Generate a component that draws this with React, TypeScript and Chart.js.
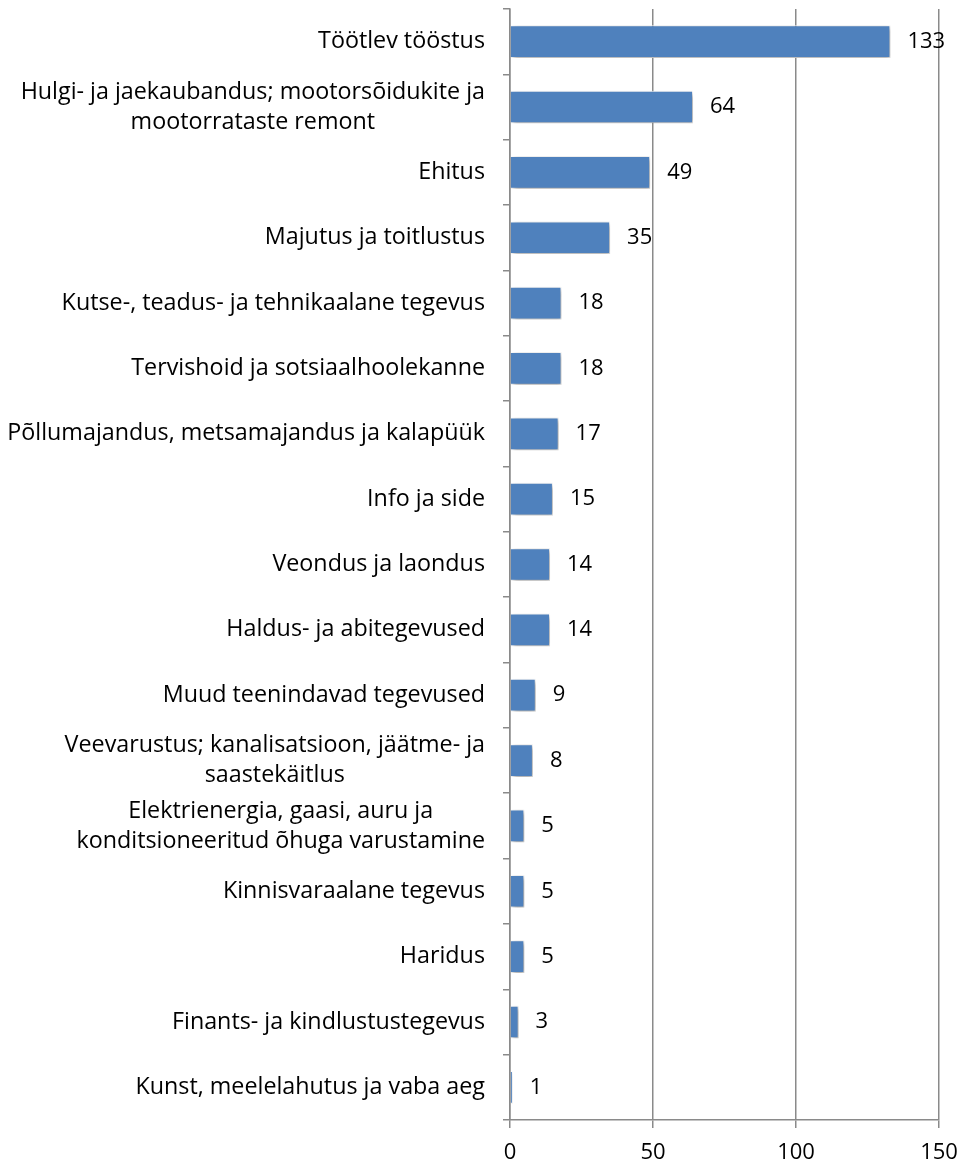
import { useEffect, useRef } from "react";
import { Chart, registerables } from "chart.js";
Chart.register(...registerables);

const categories: (string | string[])[] = [
  "Töötlev tööstus",
  ["Hulgi- ja jaekaubandus; mootorsõidukite ja", "mootorrataste remont"],
  "Ehitus",
  "Majutus ja toitlustus",
  "Kutse-, teadus- ja tehnikaalane tegevus",
  "Tervishoid ja sotsiaalhoolekanne",
  "Põllumajandus, metsamajandus ja kalapüük",
  "Info ja side",
  "Veondus ja laondus",
  "Haldus- ja abitegevused",
  "Muud teenindavad tegevused",
  ["Veevarustus; kanalisatsioon, jäätme- ja", "saastekäitlus"],
  ["Elektrienergia, gaasi, auru ja", "konditsioneeritud õhuga varustamine"],
  "Kinnisvaraalane tegevus",
  "Haridus",
  "Finants- ja kindlustustegevus",
  "Kunst, meelelahutus ja vaba aeg",
];
const values: number[] = [133, 64, 49, 35, 18, 18, 17, 15, 14, 14, 9, 8, 5, 5, 5, 3, 1];
const xTicks: number[] = [0, 50, 100, 150];

const FONT = "'Open Sans', Lato, sans-serif";
const FS = 22;
const CAT_FS = 23.3;
const LH = 30;
const GRID = "#8a8a8a";

export default function App() {
  const ref = useRef<HTMLCanvasElement>(null);
  useEffect(() => {
    if (!ref.current) return;
    const shadowPlugin = {
      id: "shadow",
      beforeDatasetsDraw(chart: any) {
        const ctx = chart.ctx;
        ctx.save();
        ctx.shadowColor = "rgba(0,0,0,0.4)";
        ctx.shadowBlur = 5;
        ctx.shadowOffsetX = 2;
        ctx.shadowOffsetY = 2;
      },
      afterDatasetsDraw(chart: any) {
        chart.ctx.restore();
      },
    };
    const labelPlugin = {
      id: "labels",
      afterDraw(chart: any) {
        const ctx = chart.ctx;
        const y = chart.scales.y;
        const x = chart.scales.x;
        ctx.save();
        ctx.fillStyle = "#000";
        ctx.textBaseline = "middle";
        ctx.font = `${CAT_FS}px ${FONT}`;
        const right = x.left - 25;
        categories.forEach((c, i) => {
          const lines = Array.isArray(c) ? c : [c];
          const yc = y.getPixelForValue(i);
          const maxW = Math.max(...lines.map((l) => ctx.measureText(l).width));
          const cx = right - maxW / 2;
          ctx.textAlign = "center";
          lines.forEach((l, j) => ctx.fillText(l, cx, yc + (j - (lines.length - 1) / 2) * LH));
        });
        ctx.font = `${FS}px ${FONT}`;
        ctx.textAlign = "left";
        values.forEach((v, i) => {
          ctx.fillText(String(v), x.getPixelForValue(v) + 17, y.getPixelForValue(i));
        });
        ctx.restore();
      },
    };
    const chart = new Chart(ref.current, {
      type: "bar",
      data: {
        labels: categories.map((c) => (Array.isArray(c) ? c.join(" ") : c)),
        datasets: [
          {
            data: values,
            backgroundColor: "#4F81BD",
            borderColor: "#ffffff",
            borderWidth: 1,
            barPercentage: 0.5,
            categoryPercentage: 1,
          },
        ],
      },
      options: {
        indexAxis: "y",
        animation: false,
        responsive: true,
        maintainAspectRatio: false,
        layout: { padding: { top: 9, right: 24, left: 0, bottom: 0 } },
        plugins: { legend: { display: false }, tooltip: { enabled: false } },
        scales: {
          x: {
            min: 0,
            max: 150,
            afterBuildTicks: (s: any) => {
              s.ticks = xTicks.map((v) => ({ value: v }));
            },
            afterFit: (s: any) => {
              s.height = 45;
              s.paddingLeft = 0;
              s.paddingRight = 0;
            },
            grid: { color: GRID, lineWidth: 1.5, tickLength: 8, drawTicks: true },
            border: { color: GRID, width: 1.5 },
            ticks: { color: "#000", font: { family: FONT, size: FS }, padding: 12 },
          },
          y: {
            afterFit: (s: any) => {
              s.width = 510;
            },
            grid: { drawOnChartArea: false, color: GRID, lineWidth: 1.5, tickLength: 7, offset: true },
            border: { color: GRID, width: 1.5 },
            ticks: { display: false },
          },
        },
      },
      plugins: [shadowPlugin, labelPlugin],
    });
    return () => chart.destroy();
  }, []);
  return (
    <div style={{ position: "absolute", left: 0, top: 0, width: 963, height: 1165 }}>
      <canvas ref={ref} />
    </div>
  );
}
